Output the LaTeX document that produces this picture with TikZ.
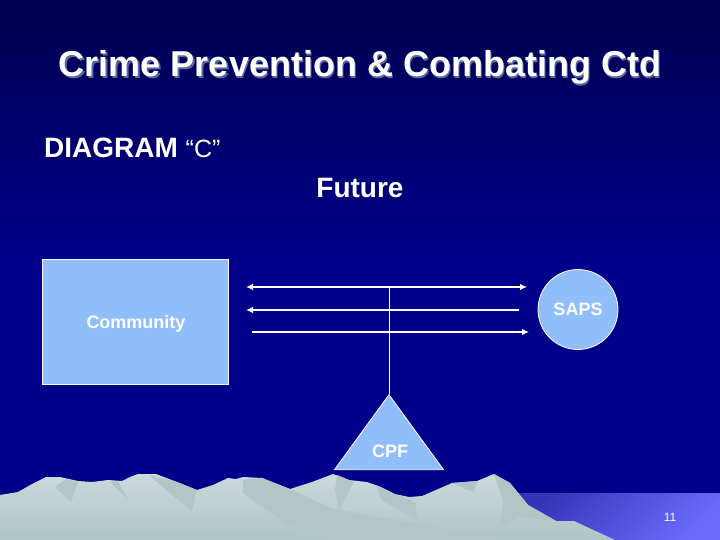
\documentclass[tikz,border=0pt]{standalone}
\usepackage{fontspec}
\setmainfont{Liberation Sans}
\usetikzlibrary{shapes.geometric, arrows.meta}
\definecolor{navy0}{HTML}{000050}
\definecolor{navy1}{HTML}{00008B}
\definecolor{boxblue}{HTML}{8FBEFA}
\definecolor{snow0}{HTML}{CBD9D9}
\definecolor{snow1}{HTML}{AFC5C5}
\definecolor{rock}{HTML}{B2C6C6}
\definecolor{lake0}{HTML}{3434B8}
\definecolor{lake1}{HTML}{6A6AFA}
\definecolor{titleshade}{HTML}{5A68A0}
\tikzset{
  shapebox/.style={draw=white, fill=boxblue, line width=0.8pt, inner sep=0pt},
  link/.style={draw=white, line width=1.2pt},
  labeltext/.style={text=white, font=\bfseries\fontsize{18}{18}\selectfont, inner sep=0pt},
  headtext/.style={text=white, font=\bfseries\fontsize{28}{28}\selectfont, inner sep=0pt},
  titletext/.style={font=\bfseries\fontsize{36}{36}\selectfont, inner sep=0pt, anchor=base}
}
\begin{document}
\begin{tikzpicture}[x=1pt, y=-1pt, >={Latex[length=7pt,width=6.5pt]}]
\useasboundingbox (0,0) rectangle (720,540);
% background
\fill[navy1] (0,0) rectangle (720,540);
\shade[top color=navy0, bottom color=navy1] (0,0) rectangle (720,260);
\shade[left color=lake0, right color=lake1, shading angle=45] (510,493) rectangle (720,540);
% mountains
\shade[top color=snow0, bottom color=snow1] (0,495) -- (18,492) -- (32,484) -- (46,477) -- (60,477) -- (78,481) -- (92,482)
  -- (108,480) -- (122,481) -- (130,477) -- (138,474) -- (156,474) -- (177,482) -- (197,490) -- (213,485) -- (228,478)
  -- (236,479) -- (243,477) -- (262,478) -- (290,489) -- (312,482) -- (333,474) -- (349,480) -- (367,482)
  -- (381,487) -- (395,494) -- (409,497) -- (422,496) -- (452,483) -- (477,481) -- (494,474) -- (510,483)
  -- (528,505) -- (556,521) -- (574,521) -- (615,540) -- (0,540) -- cycle;
\fill[rock] (55,487) -- (71,502) -- (78,482) -- (66,479) -- cycle;
\fill[rock] (110,482) -- (128,500) -- (118,481) -- cycle;
\fill[rock] (149,475) -- (177,482) -- (197,490) -- (192,511) -- (172,495) -- cycle;
\fill[rock] (243,480) -- (262,478) -- (290,489) -- (330,508) -- (460,532) -- (500,540) -- (330,540) -- (285,523) -- (243,493) -- cycle;
\fill[rock] (337,475) -- (354,482) -- (339,510) -- (335,490) -- cycle;
\fill[rock] (376,485) -- (395,494) -- (416,503) -- (417,520) -- (381,500) -- cycle;
\fill[rock] (452,483) -- (473,492) -- (477,481) -- cycle;
\fill[rock] (494,474) -- (510,483) -- (528,505) -- (556,521) -- (519,517) -- (500,527) -- (503,500) -- cycle;
% title
\node[titletext, text=titleshade] (titleback) at (361.5,78.5) {Crime Prevention \& Combating Ctd};
\node[titletext, text=white] (title) at (360,77) {Crime Prevention \& Combating Ctd};
\node[headtext, anchor=base west] (diagram) at (44,158) {DIAGRAM {\mdseries\fontsize{25}{25}\selectfont “C”}};
\node[headtext] (future) at (360,188) {Future};
% shapes
\node[shapebox, minimum width=186pt, minimum height=125pt] (comm) at (135.5,321.5) {};
\node[labeltext] (commlabel) at (136,324) {Community};
\node[shapebox, labeltext, circle, minimum size=80pt] (saps) at (578,309.5) {SAPS};
\node[shapebox, isosceles triangle, isosceles triangle apex angle=72, shape border rotate=90, minimum height=75pt, anchor=apex] (cpf) at (389,394) {};
\node[labeltext] (cpflabel) at (390,451) {CPF};
\node[text=white, font=\fontsize{12}{12}\selectfont, inner sep=0pt] (pagenum) at (670,517) {11};
% connectors
\coordinate (t0) at (246,287);
\coordinate (t1) at (527,287);
\coordinate (m0) at (246,310);
\coordinate (m1) at (519,310);
\coordinate (b0) at (252,332);
\coordinate (b1) at (529,332);
\coordinate (tj) at (389,287);
\draw[link, <->] (t0) -- (t1);
\draw[link, <-] (m0) -- (m1);
\draw[link, ->] (b0) -- (b1);
\draw[draw=white, line width=0.8pt] (tj) -- (cpf.apex);
\end{tikzpicture}
\end{document}
